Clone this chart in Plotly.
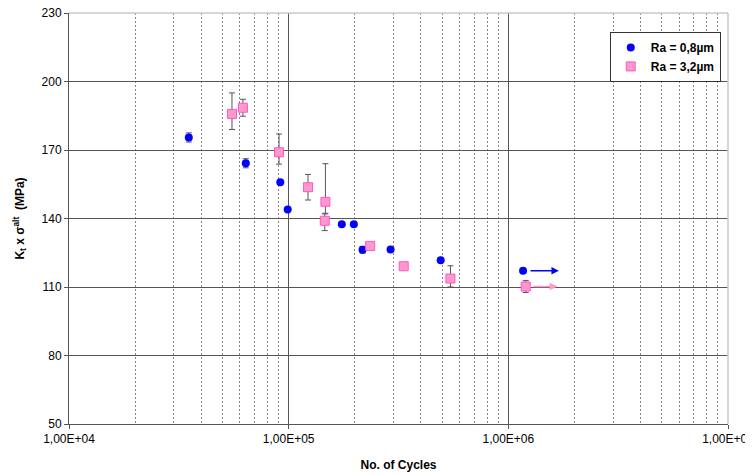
import math
import plotly.graph_objects as go

# ---- data ----
blue_cycles = [35100, 63800, 91600, 99000, 174500, 198000, 217000, 291000, 492000, 1167000]
blue_stress = [175.5, 164.2, 155.9, 143.9, 137.5, 137.5, 126.3, 126.4, 121.7, 117.1]
blue_err = [2.0, 2.0, 0.0, 0.0, 0.0, 0.0, 1.5, 0.0, 0.0, 0.0]

pink_cycles = [55200, 61900, 90400, 122500, 146000, 147000, 235000, 334000, 545000, 1200000]
pink_stress = [185.8, 188.5, 169.0, 153.7, 139.0, 147.3, 128.0, 119.1, 113.7, 110.2]
pink_err_plus = [9.2, 3.7, 8.0, 5.6, 3.0, 16.7, 0.0, 1.5, 5.6, 2.6]
pink_err_minus = [6.8, 3.7, 5.2, 5.6, 4.3, 5.0, 0.0, 1.5, 3.7, 2.6]

# run-outs (arrows): start cycles, end cycles, stress
blue_runout = (1167000, 1700000, 117.1)
pink_runout = (1200000, 1670000, 110.2)

x_tick_vals = [1e4, 1e5, 1e6, 1e7]
x_tick_text = ["1,00E+04", "1,00E+05", "1,00E+06", "1,00E+07"]
y_tick_vals = [50, 80, 110, 140, 170, 200, 230]

minor_vals = [k * 10 ** d for d in range(4, 7) for k in range(2, 10)]

fig = go.Figure()

fig.add_trace(go.Scatter(
    x=blue_cycles, y=blue_stress, mode="markers", name="<b>Ra = 0,8µm</b>",
    marker=dict(symbol="circle", size=8, color="#0000ff"),
    error_y=dict(type="data", array=blue_err, visible=True,
                 color="#555555", thickness=1, width=3),
))
fig.add_trace(go.Scatter(
    x=pink_cycles, y=pink_stress, mode="markers", name="<b>Ra = 3,2µm</b>",
    marker=dict(symbol="square", size=9, color="#ff99cc",
                line=dict(color="#ff55cc", width=1)),
    error_y=dict(type="data", symmetric=False, array=pink_err_plus,
                 arrayminus=pink_err_minus, visible=True,
                 color="#555555", thickness=1, width=3),
))

for (x0, x1, yv), col in [(blue_runout, "#0000ff"), (pink_runout, "#ff99cc")]:
    fig.add_annotation(
        x=math.log10(x1), y=yv, ax=math.log10(x0), ay=yv,
        xref="x", yref="y", axref="x", ayref="y",
        showarrow=True, arrowhead=2, arrowsize=1, arrowwidth=1.5,
        arrowcolor=col, startstandoff=6, text="",
    )

# the page body adds an 8px offset, so the figure is sized/placed accordingly
fig.update_layout(
    width=745, height=467,
    margin=dict(l=61, r=25, t=5, b=51),
    paper_bgcolor="white", plot_bgcolor="white",
    font=dict(family="Liberation Sans, Arial, sans-serif", size=12, color="#000000"),
    showlegend=True,
    legend=dict(
        x=0.989, y=0.954, xanchor="right", yanchor="top",
        bgcolor="white", bordercolor="#333333", borderwidth=1,
        font=dict(size=12, family="Liberation Sans, Arial, sans-serif"),
        tracegroupgap=0, itemwidth=30,
    ),
    xaxis=dict(
        type="log", range=[4, 7], automargin=False,
        tickvals=x_tick_vals, ticktext=x_tick_text, ticklabeloverflow="allow",
        ticks="outside", ticklen=4, tickcolor="#555555",
        showline=True, linecolor="#555555", linewidth=1, mirror=False,
        showgrid=True, gridcolor="#555555", gridwidth=1,
        minor=dict(tickvals=minor_vals, showgrid=True, griddash="2px,2px",
                   gridcolor="#888888", gridwidth=1, ticks="outside",
                   ticklen=0),
        title=dict(text="<b>No. of Cycles</b>", font=dict(size=12), standoff=15),
        tickfont=dict(size=12),
        zeroline=False,
    ),
    yaxis=dict(
        range=[50, 230], tickvals=y_tick_vals, automargin=False,
        ticklabeloverflow="allow",
        ticks="outside", ticklen=4, tickcolor="#555555",
        showline=True, linecolor="#555555", linewidth=1,
        showgrid=True, gridcolor="#555555", gridwidth=1,
        title=dict(text="<b>K<sub>t</sub> x σ<sup>alt</sup>  (MPa)</b>",
                   font=dict(size=12), standoff=14),
        tickfont=dict(size=12),
        zeroline=False,
    ),
)

# light border on top and right like the reference plot area
fig.add_shape(type="line", xref="paper", yref="paper", x0=0, x1=1, y0=1, y1=1,
              line=dict(color="#c8c8c8", width=1.5))
fig.add_shape(type="line", xref="paper", yref="paper", x0=1, x1=1, y0=0, y1=1,
              line=dict(color="#c8c8c8", width=1.5))

fig.write_html("out.html")
